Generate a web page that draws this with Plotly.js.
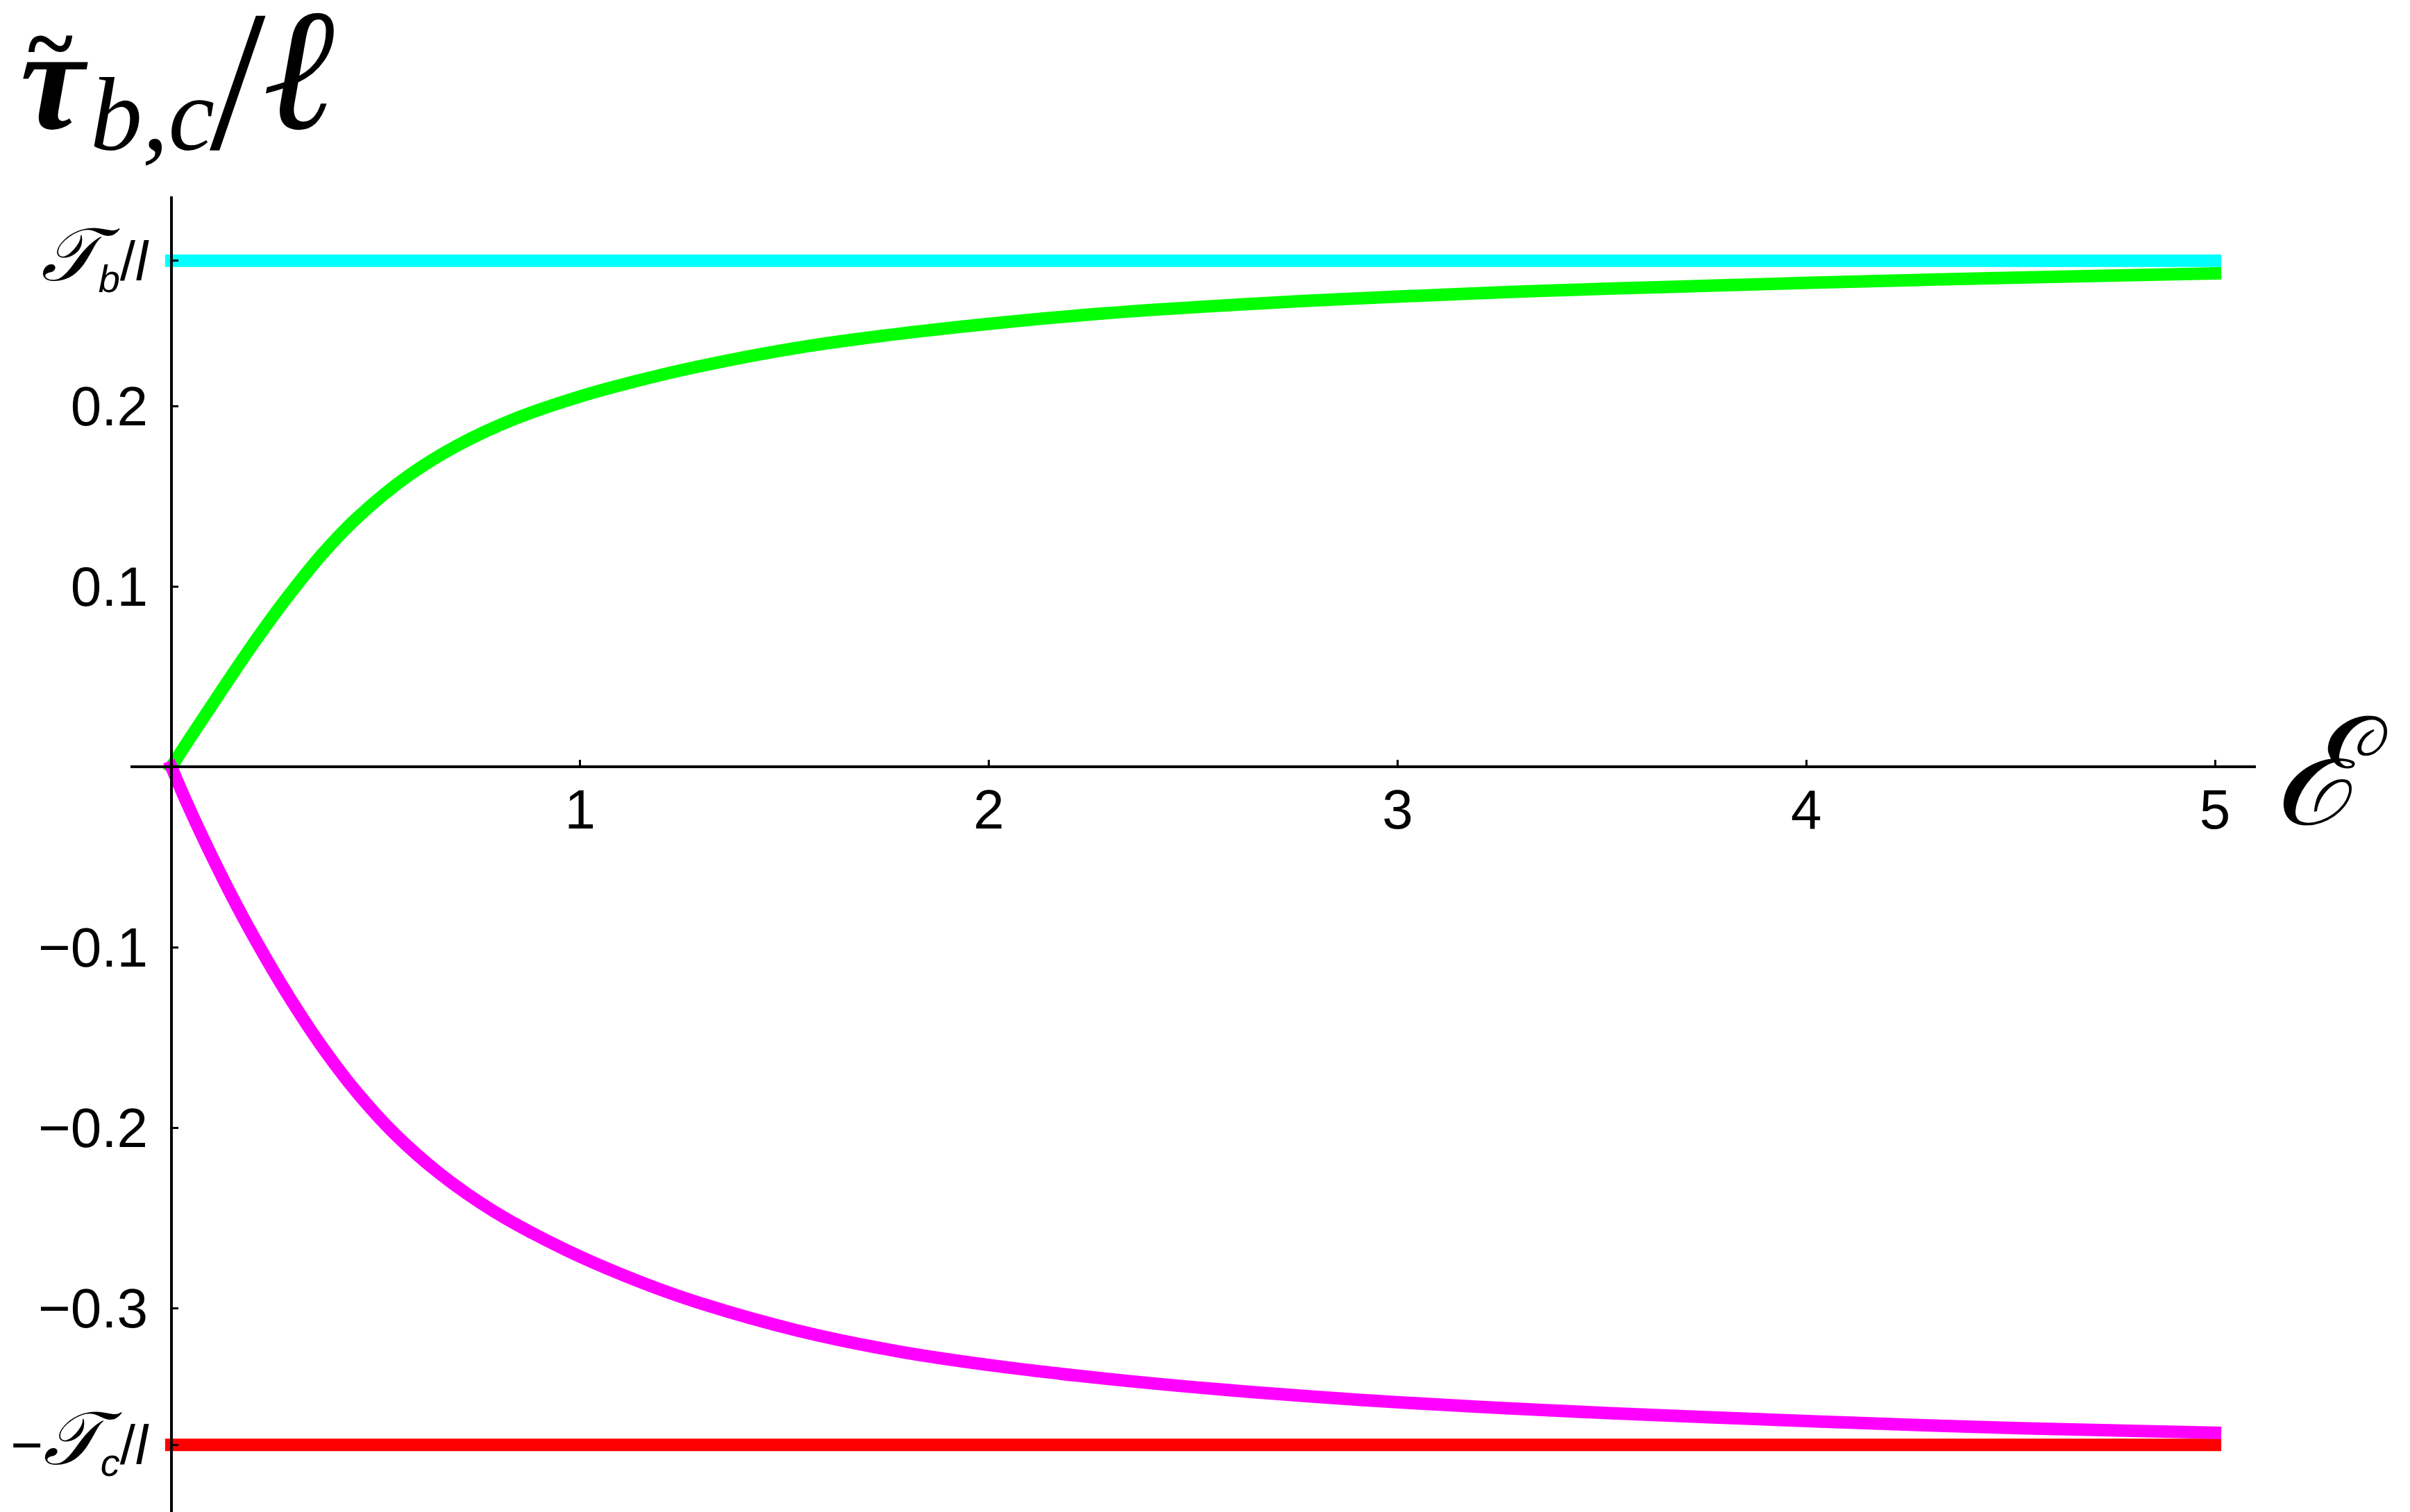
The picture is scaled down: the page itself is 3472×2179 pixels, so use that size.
<!DOCTYPE html>
<html>
<head>
<meta charset="utf-8">
<script src="https://cdn.plot.ly/plotly-3.0.1.min.js"></script>
<style>
  html, body { margin: 0; padding: 0; background: #ffffff; }
  #chart { width: 3472px; height: 2179px; }
  .js-line { stroke-linecap: square; }
</style>
</head>
<body>
<div id="chart"></div>
<script>
// ---- data ----
const energyB = [0, 0.0415, 0.0935, 0.150, 0.206, 0.280, 0.371, 0.458, 0.580, 0.701, 0.840, 1.0, 1.135, 1.281, 1.530, 1.779, 2.029, 2.278, 2.527, 2.777, 3.026, 3.276, 3.526, 3.774, 4.024, 4.275, 4.522, 5.0];
const tauBTilde = [0, 0.0145, 0.0323, 0.0515, 0.0700, 0.0929, 0.1184, 0.1388, 0.1614, 0.1783, 0.1929, 0.2053, 0.2137, 0.2215, 0.2322, 0.2400, 0.2462, 0.2513, 0.2551, 0.2583, 0.2609, 0.2632, 0.2651, 0.2668, 0.2684, 0.2699, 0.2712, 0.2735];
const energyC = [0, 0.033, 0.085, 0.146, 0.206, 0.285, 0.363, 0.449, 0.545, 0.658, 0.788, 0.961, 1.135, 1.281, 1.530, 1.779, 2.029, 2.278, 2.527, 2.777, 3.026, 3.276, 3.526, 3.774, 4.024, 4.275, 4.522, 5.0];
const tauCTilde = [0, -0.0175, -0.0430, -0.0708, -0.0960, -0.1264, -0.1533, -0.1791, -0.2031, -0.2257, -0.2462, -0.2673, -0.2844, -0.2963, -0.3123, -0.3240, -0.3324, -0.3389, -0.3443, -0.3488, -0.3525, -0.3556, -0.3583, -0.3606, -0.3628, -0.3648, -0.3666, -0.3691];
const limitX = [0, 5];
const tauB = 0.2805;   // T_b / l
const tauC = 0.3758;   // T_c / l
const xTickVals = [1, 2, 3, 4, 5];
const xTickText = ['1', '2', '3', '4', '5'];
const yTickVals = [tauB, 0.2, 0.1, -0.1, -0.2, -0.3, -tauC];
const scriptT = '<span style="font-family:DejaVu Serif;font-style:italic;font-size:108px">𝒯</span>';
const yTickText = [
  scriptT + '<sub><i>b</i></sub>/<i>l</i>',
  '0.2', '0.1', '−0.1', '−0.2', '−0.3',
  '−' + scriptT + '<sub><i>c</i></sub>/<i>l</i>'
];

const xRange = [-0.1, 5.1];
const yRange = [-0.4130, 0.3162];

const curveLine = (c) => ({ color: c, width: 18, shape: 'spline', smoothing: 1, simplify: false });
const traces = [
  { x: limitX, y: [tauB, tauB], mode: 'lines', line: { color: '#00FFFF', width: 18, simplify: false } },
  { x: limitX, y: [-tauC, -tauC], mode: 'lines', line: { color: '#FF0000', width: 18, simplify: false } },
  { x: energyB, y: tauBTilde, mode: 'lines', line: curveLine('#00FF00') },
  { x: energyC, y: tauCTilde, mode: 'lines', line: curveLine('#FF00FF') }
];

const serif = 'Liberation Serif, Times New Roman, serif';
function titlePiece(text, size, xPx, bottomPx) {
  return {
    xref: 'paper', yref: 'paper',
    x: (xPx - 188) / 3062, y: (2179 - bottomPx) / 1896,
    xanchor: 'left', yanchor: 'bottom', showarrow: false,
    text: text, font: { family: serif, size: size, color: '#000' }
  };
}

const layout = {
  width: 3472, height: 2179,
  margin: { l: 188, r: 222, t: 283, b: 0 },
  paper_bgcolor: '#ffffff', plot_bgcolor: '#ffffff',
  showlegend: false, hovermode: false,
  font: { family: 'Liberation Sans, Arial, sans-serif', color: '#000000', size: 80 },
  xaxis: {
    range: xRange, anchor: 'free', position: (0 - yRange[0]) / (yRange[1] - yRange[0]),
    showgrid: false, zeroline: false, showline: true, linecolor: '#000', linewidth: 4,
    ticks: 'inside', ticklen: 8, tickwidth: 3, tickcolor: '#000',
    tickvals: xTickVals, ticktext: xTickText, ticklabelstandoff: -9,
    tickfont: { family: 'Liberation Sans, Arial, sans-serif', size: 80, color: '#000' }
  },
  yaxis: {
    range: yRange, anchor: 'free', position: (0 - xRange[0]) / (xRange[1] - xRange[0]),
    showgrid: false, zeroline: false, showline: true, linecolor: '#000', linewidth: 4,
    ticks: 'inside', ticklen: 8, tickwidth: 3, tickcolor: '#000',
    tickvals: yTickVals, ticktext: yTickText, ticklabelstandoff: 16,
    tickfont: { family: 'Liberation Sans, Arial, sans-serif', size: 80, color: '#000' }
  },
  annotations: [
    titlePiece('<b><i>τ</i></b>', 208, 27, 232),
    titlePiece('<b>~</b>', 125, 38, 133),
    titlePiece('<i>b,c</i>', 150, 128, 250),
    titlePiece('/', 290, 300, 279),
    titlePiece('<b><i>ℓ</i></b>', 250, 380, 241),
    {
      xref: 'paper', yref: 'paper', x: 1.035, y: 0.562, xanchor: 'center', yanchor: 'middle',
      showarrow: false,
      text: '<i>ℰ</i>',
      font: { family: 'DejaVu Serif, serif', size: 215, color: '#000' }
    }
  ]
};

Plotly.newPlot('chart', traces, layout, { staticPlot: true, displayModeBar: false });
</script>
</body>
</html>
